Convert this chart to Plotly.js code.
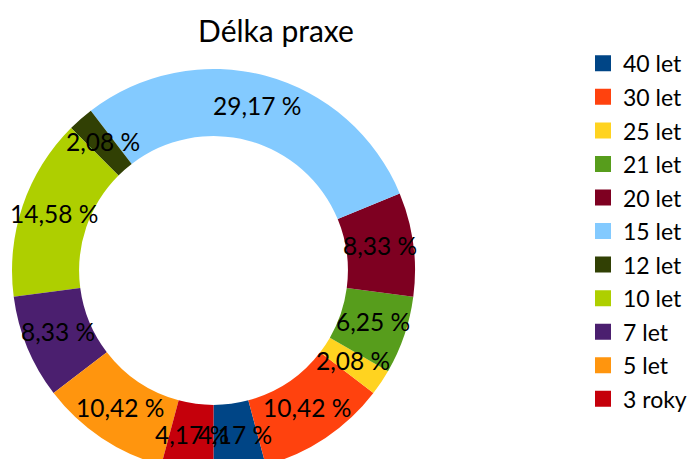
<!DOCTYPE html>
<html>
<head>
<meta charset="utf-8">
<script src="https://cdn.plot.ly/plotly-3.0.1.min.js"></script>
<style>
html,body{margin:0;padding:0;overflow:hidden;background:#fff;}
#chart{width:693px;height:500px;}
</style>
</head>
<body>
<div id="chart"></div>
<script>
// Data
var categories = ["40 let", "30 let", "25 let", "21 let", "20 let", "15 let", "12 let", "10 let", "7 let", "5 let", "3 roky"];
var percentages = [4.17, 10.42, 2.08, 6.25, 8.33, 29.17, 2.08, 14.58, 8.33, 10.42, 4.17];
var colors = ["#004586", "#FF420E", "#FFD320", "#579D1C", "#7E0021", "#83CAFF", "#314004", "#AECF00", "#4B1F6F", "#FF950E", "#C5000B"];
var chartTitle = "Délka praxe";

var W = 693, H = 500;
var CX = 213.5, CY = 270.5, R = 201.5, HOLE = 0.667;
var START = 180; // first slice begins at 6 o'clock and runs counterclockwise

function fmt(v){ return v.toFixed(2).replace('.', ',') + ' %'; }

var total = percentages.reduce(function(a,b){return a+b;}, 0);
var annotations = [];
var cum = 0;
var rMid = R * (1 + HOLE) / 2;
for (var i = 0; i < percentages.length; i++) {
  var mid = (cum + percentages[i] / 2) / total * 360;
  cum += percentages[i];
  var theta = (START - mid) * Math.PI / 180; // clockwise from 12 o'clock
  var px = CX + rMid * Math.sin(theta);
  var py = CY - rMid * Math.cos(theta);
  annotations.push({
    x: px / W, y: 1 - py / H, xref: 'paper', yref: 'paper',
    text: fmt(percentages[i]), showarrow: false,
    xanchor: 'center', yanchor: 'middle', yshift: 3,
    font: {family: 'Lato, sans-serif', size: 24.5, color: '#000'}
  });
}

var legendLabels = categories.map(function(c){ return '<span style="font-size:23px">' + c + '</span>'; });

var trace = {
  type: 'pie',
  labels: legendLabels,
  values: percentages,
  marker: {colors: colors, line: {width: 0}},
  hole: HOLE,
  sort: false,
  direction: 'counterclockwise',
  // Plotly ends the first counterclockwise slice at `rotation`, so shift by its share
  rotation: START - percentages[0] / total * 360,
  textinfo: 'none',
  hoverinfo: 'label+percent',
  domain: {x: [(CX - R) / W, (CX + R) / W], y: [1 - (CY + R) / H, 1 - (CY - R) / H]}
};

var layout = {
  width: W, height: H,
  margin: {l: 0, r: 0, t: 0, b: 0},
  paper_bgcolor: '#fff',
  font: {family: 'Lato, sans-serif', color: '#000'},
  title: {text: chartTitle, x: 276 / W, xanchor: 'center', y: 1 - 31 / H, yanchor: 'middle', yref: 'container',
          font: {family: 'Lato, sans-serif', size: 30, color: '#000'}},
  showlegend: true,
  legend: {x: 583 / W, xanchor: 'left', y: 1 - 41.5 / H, yanchor: 'top', font: {family: 'Lato, sans-serif', size: 23.5, color: '#000'}, bgcolor: 'rgba(0,0,0,0)'},
  annotations: annotations
};

Plotly.newPlot('chart', [trace], layout, {displayModeBar: false, staticPlot: true}).then(function(){
  document.querySelectorAll('.legend path.legendpie').forEach(function(p){
    p.setAttribute('d', 'M8,8H-8V-8H8Z');
  });
});
</script>
</body>
</html>
